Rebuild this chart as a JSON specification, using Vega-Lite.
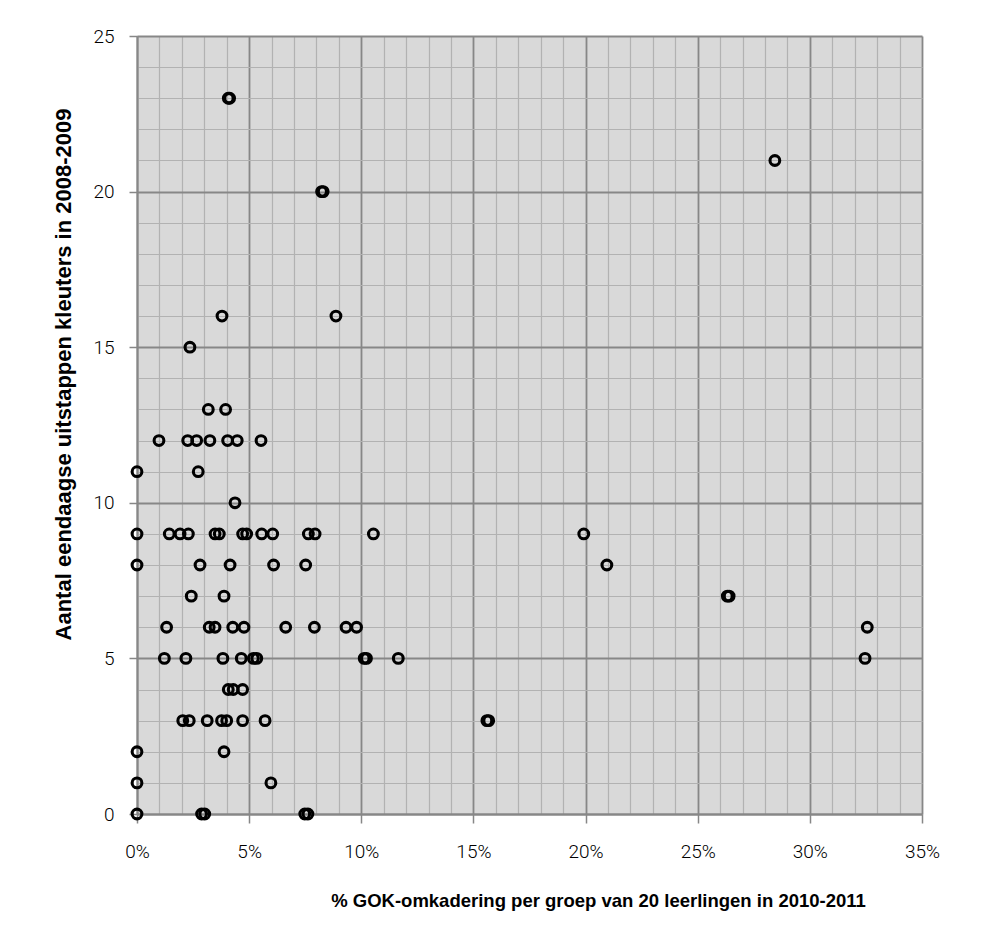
{
  "$schema": "https://vega.github.io/schema/vega-lite/v6.json",
  "width": 785,
  "height": 778,
  "autosize": {"type": "none"},
  "padding": {"left": 137, "top": 36, "right": 78, "bottom": 129},
  "background": "#ffffff",
  "config": {
    "view": {"fill": "#d9d9d9", "stroke": null}
  },
  "data": {
    "values": [
      {"pct": 4.07, "n": 23}, {"pct": 4.13, "n": 23},
      {"pct": 28.44, "n": 21},
      {"pct": 8.23, "n": 20}, {"pct": 8.3, "n": 20},
      {"pct": 3.79, "n": 16}, {"pct": 8.87, "n": 16},
      {"pct": 2.36, "n": 15},
      {"pct": 3.18, "n": 13}, {"pct": 3.95, "n": 13},
      {"pct": 0.98, "n": 12}, {"pct": 2.26, "n": 12}, {"pct": 2.66, "n": 12}, {"pct": 3.25, "n": 12}, {"pct": 4.04, "n": 12}, {"pct": 4.47, "n": 12}, {"pct": 5.53, "n": 12},
      {"pct": 0, "n": 11}, {"pct": 2.73, "n": 11},
      {"pct": 4.37, "n": 10},
      {"pct": 0, "n": 9}, {"pct": 1.44, "n": 9}, {"pct": 1.92, "n": 9}, {"pct": 2.29, "n": 9}, {"pct": 3.48, "n": 9}, {"pct": 3.67, "n": 9}, {"pct": 4.71, "n": 9}, {"pct": 4.89, "n": 9}, {"pct": 5.56, "n": 9}, {"pct": 6.05, "n": 9}, {"pct": 7.64, "n": 9}, {"pct": 7.94, "n": 9}, {"pct": 10.54, "n": 9}, {"pct": 19.92, "n": 9},
      {"pct": 0, "n": 8}, {"pct": 2.81, "n": 8}, {"pct": 4.15, "n": 8}, {"pct": 6.09, "n": 8}, {"pct": 7.52, "n": 8}, {"pct": 20.95, "n": 8},
      {"pct": 2.42, "n": 7}, {"pct": 3.88, "n": 7}, {"pct": 26.32, "n": 7}, {"pct": 26.4, "n": 7},
      {"pct": 1.32, "n": 6}, {"pct": 3.22, "n": 6}, {"pct": 3.48, "n": 6}, {"pct": 4.27, "n": 6}, {"pct": 4.77, "n": 6}, {"pct": 6.63, "n": 6}, {"pct": 7.91, "n": 6}, {"pct": 9.32, "n": 6}, {"pct": 9.79, "n": 6}, {"pct": 32.56, "n": 6},
      {"pct": 1.22, "n": 5}, {"pct": 2.18, "n": 5}, {"pct": 3.83, "n": 5}, {"pct": 4.65, "n": 5}, {"pct": 5.19, "n": 5}, {"pct": 5.34, "n": 5}, {"pct": 10.13, "n": 5}, {"pct": 10.23, "n": 5}, {"pct": 11.65, "n": 5}, {"pct": 32.46, "n": 5},
      {"pct": 4.07, "n": 4}, {"pct": 4.29, "n": 4}, {"pct": 4.71, "n": 4},
      {"pct": 2.04, "n": 3}, {"pct": 2.33, "n": 3}, {"pct": 3.13, "n": 3}, {"pct": 3.77, "n": 3}, {"pct": 4.0, "n": 3}, {"pct": 4.71, "n": 3}, {"pct": 5.71, "n": 3}, {"pct": 15.6, "n": 3}, {"pct": 15.68, "n": 3},
      {"pct": 0, "n": 2}, {"pct": 3.88, "n": 2},
      {"pct": 0, "n": 1}, {"pct": 5.97, "n": 1},
      {"pct": 0, "n": 0}, {"pct": 2.88, "n": 0}, {"pct": 3.02, "n": 0}, {"pct": 7.48, "n": 0}, {"pct": 7.62, "n": 0}
    ]
  },
  "mark": {"type": "point", "filled": false, "stroke": "#000000", "strokeWidth": 3.1, "size": 95, "opacity": 1},
  "encoding": {
    "x": {
      "field": "pct",
      "type": "quantitative",
      "scale": {"domain": [0, 35], "nice": false, "zero": false},
      "axis": {
        "values": [0,1,2,3,4,5,6,7,8,9,10,11,12,13,14,15,16,17,18,19,20,21,22,23,24,25,26,27,28,29,30,31,32,33,34,35],
        "labelExpr": "datum.value % 5 === 0 ? datum.value + '%' : ''",
        "labelOverlap": false,
        "labelBound": false,
        "labelFlush": false,
        "labelFont": "Roboto",
        "labelFontWeight": 300,
        "labelFontSize": 19,
        "labelColor": "#000000",
        "labelPadding": 19,
        "labelBaseline": "top",
        "tickSize": 9,
        "tickWidth": 1.5,
        "tickColor": "#878787",
        "tickOpacity": {"condition": {"test": "datum.value % 5 === 0", "value": 1}, "value": 0},
        "grid": true,
        "gridColor": {"condition": {"test": "datum.value % 5 === 0", "value": "#878787"}, "value": "#b2b2b2"},
        "gridWidth": {"condition": {"test": "datum.value % 5 === 0", "value": 1.8}, "value": 1.2},
        "domain": true,
        "domainColor": "#878787",
        "domainWidth": 2,
        "title": "% GOK-omkadering per groep van 20 leerlingen in 2010-2011",
        "titleFont": "Liberation Sans",
        "titleFontSize": 18.5,
        "titleFontWeight": "bold",
        "titleColor": "#000000",
        "titleX": 461,
        "titleY": 86,
        "titleAlign": "center",
        "titleBaseline": "middle"
      }
    },
    "y": {
      "field": "n",
      "type": "quantitative",
      "scale": {"domain": [0, 25], "nice": false, "zero": false},
      "axis": {
        "values": [0,1,2,3,4,5,6,7,8,9,10,11,12,13,14,15,16,17,18,19,20,21,22,23,24,25],
        "labelExpr": "datum.value % 5 === 0 ? datum.value + '' : ''",
        "labelOverlap": false,
        "labelBound": false,
        "labelFlush": false,
        "labelFont": "Roboto",
        "labelFontWeight": 300,
        "labelFontSize": 19,
        "labelColor": "#000000",
        "labelPadding": 15,
        "tickSize": 8,
        "tickWidth": 1.5,
        "tickColor": "#878787",
        "tickOpacity": {"condition": {"test": "datum.value % 5 === 0", "value": 1}, "value": 0},
        "grid": true,
        "gridColor": {"condition": {"test": "datum.value % 5 === 0", "value": "#878787"}, "value": "#b2b2b2"},
        "gridWidth": {"condition": {"test": "datum.value % 5 === 0", "value": 1.8}, "value": 1.2},
        "domain": true,
        "domainColor": "#878787",
        "domainWidth": 2,
        "title": "Aantal eendaagse uitstappen kleuters in 2008-2009",
        "titleFont": "Liberation Sans",
        "titleFontSize": 22,
        "titleFontWeight": "bold",
        "titleColor": "#000000",
        "titleAngle": 270,
        "titleX": -74,
        "titleY": 338,
        "titleAlign": "center",
        "titleBaseline": "middle"
      }
    }
  }
}
